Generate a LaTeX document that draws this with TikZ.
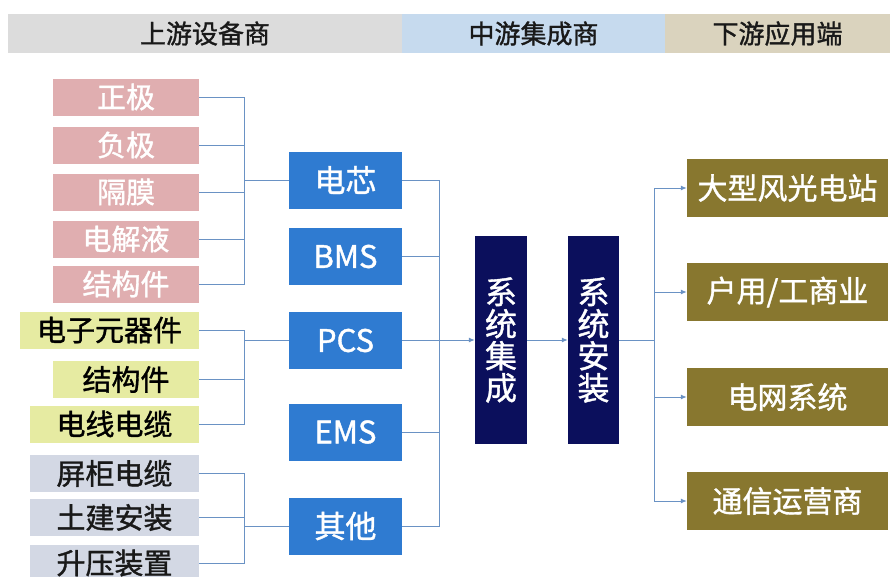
\documentclass[tikz,border=0pt]{standalone}
\usepackage{fontspec}
\setmainfont{Noto Sans CJK SC}[FakeBold=1.2]
\usepackage{tikz}
\usetikzlibrary{calc}
\usetikzlibrary{arrows.meta}

\definecolor{hdgray}{HTML}{DCDCDC}
\definecolor{hdblue}{HTML}{C6DAEE}
\definecolor{hdtan}{HTML}{DAD3BE}
\definecolor{cellred}{HTML}{E0AEB0}
\definecolor{pcsgreen}{HTML}{E6EBA2}
\definecolor{othgray}{HTML}{D3D8E4}
\definecolor{midblue}{HTML}{2F7BD1}
\definecolor{sysnavy}{HTML}{0B0F5C}
\definecolor{endbrown}{HTML}{88772F}
\definecolor{linkblue}{HTML}{6A92C4}

\begin{document}
\begin{tikzpicture}[x=1pt, y=-1pt,
    box/.style={rectangle, inner sep=0pt, minimum height=37pt},
    head/.style={box, minimum height=39pt, text=black!90, font=\fontsize{26}{28}\selectfont},
    cellpart/.style={box, fill=cellred, text=white, minimum width=146pt, font=\fontsize{29}{30}\selectfont},
    pcspart/.style={box, fill=pcsgreen, text=black, font=\fontsize{29}{30}\selectfont},
    othpart/.style={box, fill=othgray, text=black!90, minimum width=169pt, font=\fontsize{29}{30}\selectfont},
    module/.style={box, fill=midblue, text=white, minimum width=113pt, minimum height=57pt, font=\fontsize{31}{32}\selectfont},
    sysbox/.style={box, fill=sysnavy, text=white, minimum height=208pt, align=center, font=\fontsize{32}{32}\selectfont},
    usebox/.style={box, fill=endbrown, text=white, minimum width=201pt, minimum height=58pt, font=\fontsize{30}{32}\selectfont},
    link/.style={draw=linkblue, line width=1pt},
    arrow/.style={link, -{Latex[length=6pt,width=5pt]}}
    ]
    \useasboundingbox (0,0) rectangle (890,576);

    % header bands
    \node[head, fill=hdgray, minimum width=394pt] (hup) at (205,33.5) {上游设备商};
    \node[head, fill=hdblue, minimum width=263pt] (hmid) at (533.5,33.5) {中游集成商};
    \node[head, fill=hdtan, minimum width=225pt] (hdown) at (777.5,33.5) {下游应用端};

    % upstream parts
    \node[cellpart] (zj) at (126,97) {正极};
    \node[cellpart] (fj) at (126,145) {负极};
    \node[cellpart] (gm) at (126,192) {隔膜};
    \node[cellpart] (djy) at (126,239) {电解液};
    \node[cellpart] (jgj) at (126,284) {结构件};

    \node[pcspart, minimum width=179pt] (dzyq) at (109.5,330) {电子元器件};
    \node[pcspart, minimum width=146pt] (jgjb) at (126,379.5) {结构件};
    \node[pcspart, minimum width=169pt] (dxdl) at (114.5,424) {电线电缆};

    \node[othpart] (pgdl) at (114.5,473.5) {屏柜电缆};
    \node[othpart] (tjaz) at (114.5,517.5) {土建安装};
    \node[othpart] (syzz) at (114.5,563) {升压装置};

    % modules
    \node[module] (dx) at (345.5,180) {电芯};
    \node[module] (bms) at (345.5,256.5) {BMS};
    \node[module] (pcs) at (345.5,340.5) {PCS};
    \node[module] (ems) at (345.5,432) {EMS};
    \node[module] (qt) at (345.5,526) {其他};

    % integration
    \node[sysbox, minimum width=52pt] (xtjc) at (501,340) {系\\统\\集\\成};
    \node[sysbox, minimum width=51pt] (xtaz) at (593.5,340) {系\\统\\安\\装};

    % downstream
    \node[usebox] (dxfg) at (787.5,188) {大型风光电站};
    \node[usebox] (hygs) at (787.5,292) {户用/工商业};
    \node[usebox] (dwxt) at (787.5,397) {电网系统};
    \node[usebox] (txyy) at (787.5,501) {通信运营商};

    % buses
    \coordinate (cbus) at ([xshift=-44pt]dx.west);
    \coordinate (pbus) at ([xshift=-44pt]pcs.west);
    \coordinate (obus) at ([xshift=-44pt]qt.west);
    \coordinate (mbus) at ([xshift=-35pt]xtjc.west);
    \coordinate (dbus) at ([xshift=35pt]xtaz.east);

    \draw[link] (zj.east) -| (cbus) (fj.east) -| (cbus) (gm.east) -| (cbus)
      (djy.east) -| (cbus) (jgj.east) -| (cbus) (cbus) -- (dx.west);
    \draw[link] (dzyq.east) -| (pbus) (jgjb.east) -| (pbus) (dxdl.east) -| (pbus)
      (pbus) -- (pcs.west);
    \draw[link] (pgdl.east) -| (obus) (tjaz.east) -| (obus) (syzz.east) -| (obus)
      (obus) -- (qt.west);
    \draw[link] (dx.east) -| (mbus) (bms.east) -| (mbus) (pcs.east) -| (mbus)
      (ems.east) -| (mbus) (qt.east) -| (mbus);
    \draw[arrow] (mbus) -- (xtjc.west);
    \draw[arrow] (xtjc.east) -- (xtaz.west);
    \draw[link] (xtaz.east) -- (dbus);
    \draw[arrow] (dbus) |- (dxfg.west);
    \draw[arrow] (dbus) |- (hygs.west);
    \draw[arrow] (dbus) |- (dwxt.west);
    \draw[arrow] (dbus) |- (txyy.west);
\end{tikzpicture}
\end{document}
